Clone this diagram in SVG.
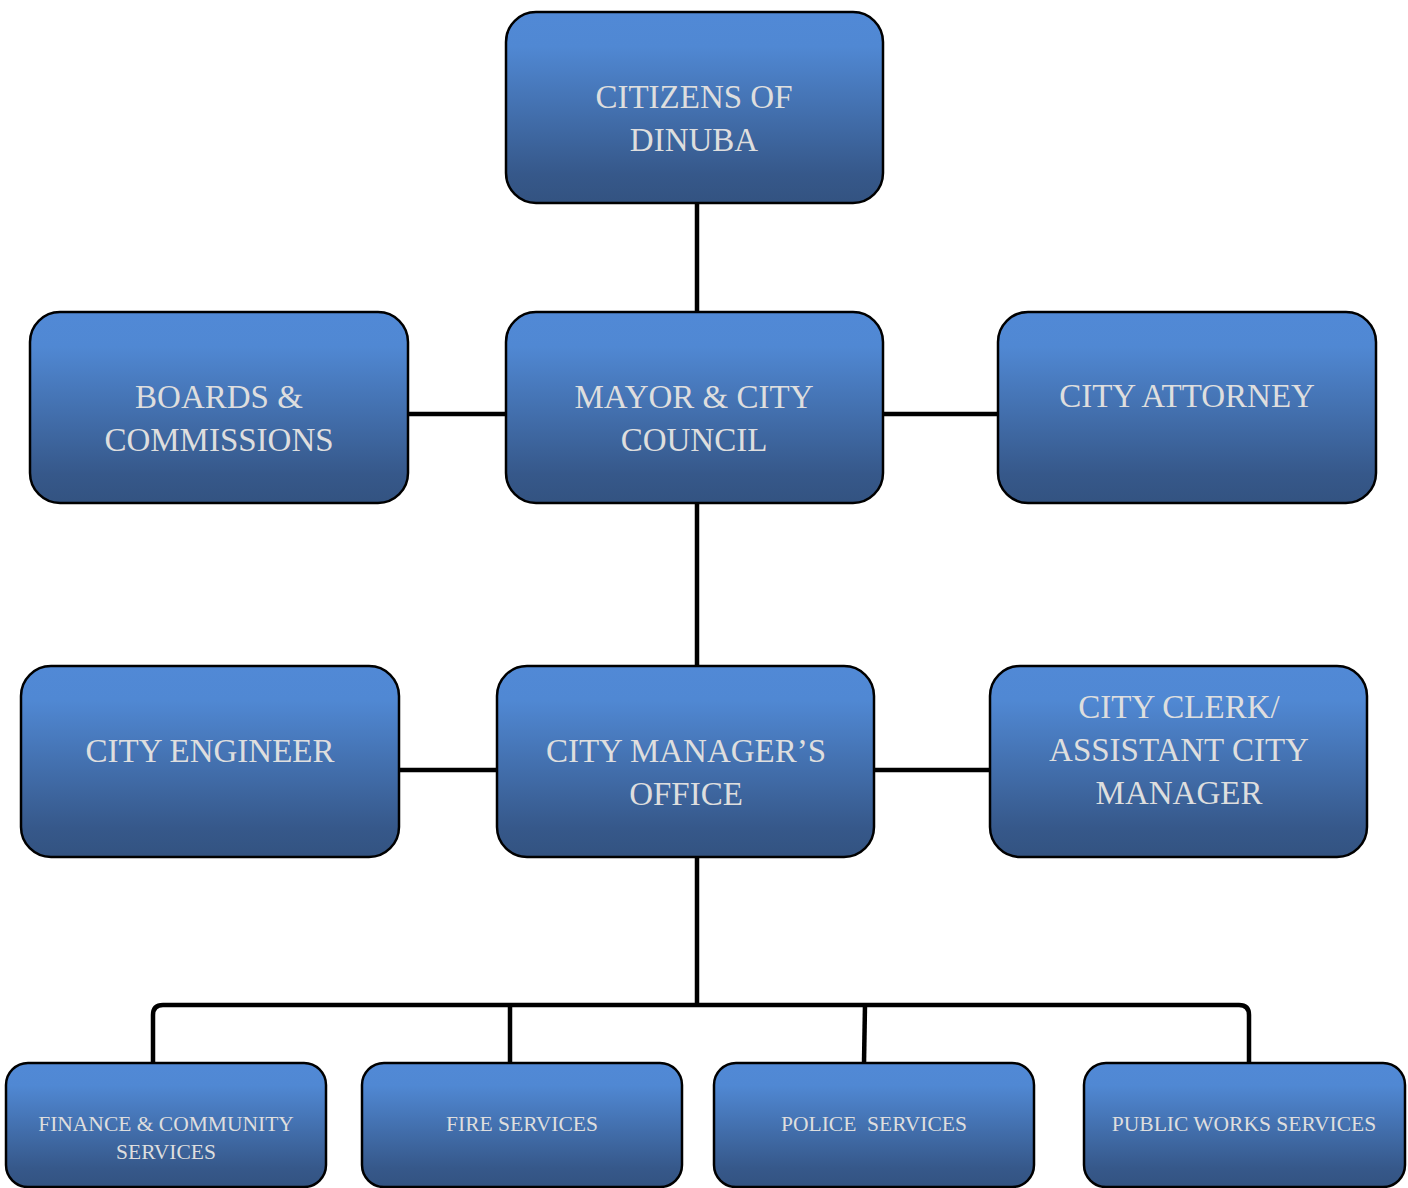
<svg xmlns="http://www.w3.org/2000/svg" width="1408" height="1188" viewBox="0 0 1408 1188">
<defs>
<linearGradient id="g" x1="0" y1="0" x2="0" y2="1">
<stop offset="0" stop-color="#5189d6"/>
<stop offset="0.18" stop-color="#5088d3"/>
<stop offset="0.85" stop-color="#36588a"/>
<stop offset="1" stop-color="#335381"/>
</linearGradient>
</defs>
<style>
.n{fill:url(#g);stroke:#000;stroke-width:2.5}
.t{font-family:"Liberation Serif","DejaVu Serif",serif;fill:#dedede;text-anchor:middle;font-size:33px;white-space:pre}
.s{font-size:21.5px}
.c{fill:none;stroke:#000;stroke-width:4.5}
</style>
<rect width="1408" height="1188" fill="#fff"/>
<g id="connectors">
<line class="c" x1="697" y1="203" x2="697" y2="312"/>
<line class="c" x1="697" y1="503" x2="697" y2="666"/>
<line class="c" x1="697" y1="857" x2="697" y2="1005"/>
<line class="c" x1="408" y1="414" x2="506" y2="414"/>
<line class="c" x1="883" y1="414" x2="998" y2="414"/>
<line class="c" x1="399" y1="770" x2="497" y2="770"/>
<line class="c" x1="874" y1="770" x2="990" y2="770"/>
<path class="c" d="M153 1063 V1015 Q153 1005 163 1005 H1239 Q1249 1005 1249 1015 V1063"/>
<line class="c" x1="510" y1="1005" x2="510" y2="1063"/>
<line class="c" x1="865" y1="1005" x2="864" y2="1063"/>
</g>
<g id="citizens">
<rect class="n" x="506" y="12" width="377" height="191" rx="30"/>
<text class="t" x="694" y="108">CITIZENS OF</text>
<text class="t" x="694" y="151">DINUBA</text>
</g>
<g id="mayor">
<rect class="n" x="506" y="312" width="377" height="191" rx="30"/>
<text class="t" x="694" y="408">MAYOR &amp; CITY</text>
<text class="t" x="694" y="451">COUNCIL</text>
</g>
<g id="boards">
<rect class="n" x="30" y="312" width="378" height="191" rx="30"/>
<text class="t" x="219" y="408">BOARDS &amp;</text>
<text class="t" x="219" y="451">COMMISSIONS</text>
</g>
<g id="attorney">
<rect class="n" x="998" y="312" width="378" height="191" rx="30"/>
<text class="t" x="1187" y="407">CITY ATTORNEY</text>
</g>
<g id="engineer">
<rect class="n" x="21" y="666" width="378" height="191" rx="30"/>
<text class="t" x="210" y="762">CITY ENGINEER</text>
</g>
<g id="manager">
<rect class="n" x="497" y="666" width="377" height="191" rx="30"/>
<text class="t" x="686" y="762">CITY MANAGER’S</text>
<text class="t" x="686" y="805">OFFICE</text>
</g>
<g id="clerk">
<rect class="n" x="990" y="666" width="377" height="191" rx="30"/>
<text class="t" x="1179" y="718">CITY CLERK/</text>
<text class="t" x="1179" y="761">ASSISTANT CITY</text>
<text class="t" x="1179" y="804">MANAGER</text>
</g>
<g id="finance">
<rect class="n" x="6" y="1063" width="320" height="124" rx="22"/>
<text class="t s" x="166" y="1131">FINANCE &amp; COMMUNITY</text>
<text class="t s" x="166" y="1159">SERVICES</text>
</g>
<g id="fire">
<rect class="n" x="362" y="1063" width="320" height="124" rx="22"/>
<text class="t s" x="522" y="1131">FIRE SERVICES</text>
</g>
<g id="police">
<rect class="n" x="714" y="1063" width="320" height="124" rx="22"/>
<text class="t s" x="874" y="1131" xml:space="preserve">POLICE  SERVICES</text>
</g>
<g id="publicworks">
<rect class="n" x="1084" y="1063" width="321" height="124" rx="22"/>
<text class="t s" x="1244" y="1131">PUBLIC WORKS SERVICES</text>
</g>
</svg>
